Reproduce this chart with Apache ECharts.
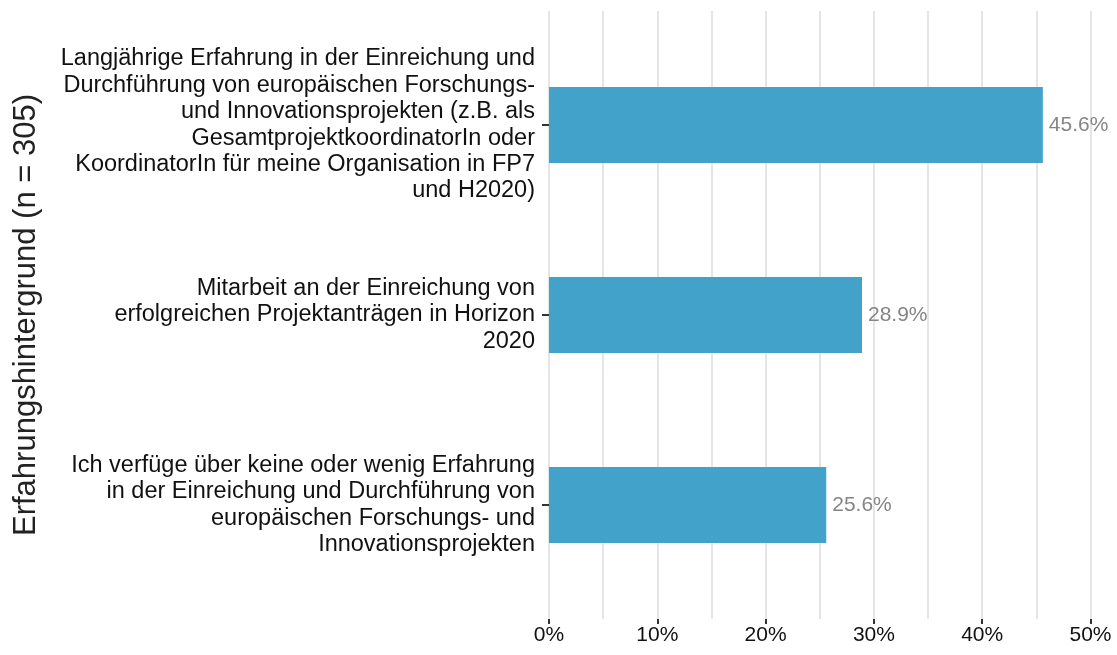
<!DOCTYPE html>
<html>
<head>
<meta charset="utf-8">
<script src="https://cdn.jsdelivr.net/npm/echarts@6/dist/echarts.min.js"></script>
<style>
  html, body { margin: 0; padding: 0; background: #fff; }
  #box { width: 1117px; height: 655px; }
</style>
</head>
<body>
<div id="box"></div>
<script>
// Kategorien (von oben nach unten)
var categories = [
  'Langjährige Erfahrung in der Einreichung und\nDurchführung von europäischen Forschungs-\nund Innovationsprojekten (z.B. als\nGesamtprojektkoordinatorIn oder\nKoordinatorIn für meine Organisation in FP7\nund H2020)',
  'Mitarbeit an der Einreichung von\nerfolgreichen Projektanträgen in Horizon\n2020',
  'Ich verfüge über keine oder wenig Erfahrung\nin der Einreichung und Durchführung von\neuropäischen Forschungs- und\nInnovationsprojekten'
];
var shares = [45.6, 28.9, 25.6];
var tickLabels = ['0%', '10%', '20%', '30%', '40%', '50%'];

var font = 'Liberation Sans, Arial, sans-serif';
var myChart = echarts.init(document.getElementById('box'));

var option = {
  animation: false,
  textStyle: { fontFamily: font },
  grid: [
    { left: 549, right: 26.5, top: 11, bottom: 36 },
    { left: 549, right: 26.5, top: 30, bottom: 55 }
  ],
  xAxis: [{
    gridIndex: 0,
    type: 'value',
    min: 0,
    max: 50,
    interval: 10,
    axisLine: { show: false },
    axisTick: { show: true, length: 5, lineStyle: { color: '#333', width: 2 } },
    axisLabel: {
      margin: 6,
      fontSize: 21,
      color: '#111',
      fontFamily: font,
      formatter: function (v) { return tickLabels[Math.round(v / 10)]; }
    },
    splitLine: { show: true, lineStyle: { color: '#e5e5e5', width: 2 } },
    minorTick: { show: false, splitNumber: 2 },
    minorSplitLine: { show: true, lineStyle: { color: '#e5e5e5', width: 2 } }
  }, {
    gridIndex: 1,
    type: 'value',
    min: 0,
    max: 50,
    show: false
  }],
  yAxis: [{
    gridIndex: 0,
    type: 'value',
    show: false
  }, {
    gridIndex: 1,
    type: 'category',
    inverse: true,
    data: categories,
    axisLine: { show: false },
    axisTick: { show: true, alignWithLabel: true, length: 7, lineStyle: { color: '#333', width: 2 } },
    axisLabel: {
      margin: 14,
      fontSize: 23.5,
      lineHeight: 26.4,
      color: '#111',
      align: 'right',
      fontFamily: font
    },
    name: 'Erfahrungshintergrund (n = 305)',
    nameLocation: 'middle',
    nameRotate: 90,
    nameGap: 507,
    nameTextStyle: { fontSize: 31, color: '#222', fontFamily: font }
  }],
  series: [{
    type: 'bar',
    xAxisIndex: 1,
    yAxisIndex: 1,
    barWidth: 76,
    data: shares,
    itemStyle: { color: '#43a2ca' },
    label: {
      show: true,
      position: 'right',
      distance: 6,
      fontSize: 21,
      color: '#858585',
      fontFamily: font,
      formatter: function (p) { return p.value.toFixed(1) + '%'; }
    }
  }]
};

myChart.setOption(option);
</script>
</body>
</html>
